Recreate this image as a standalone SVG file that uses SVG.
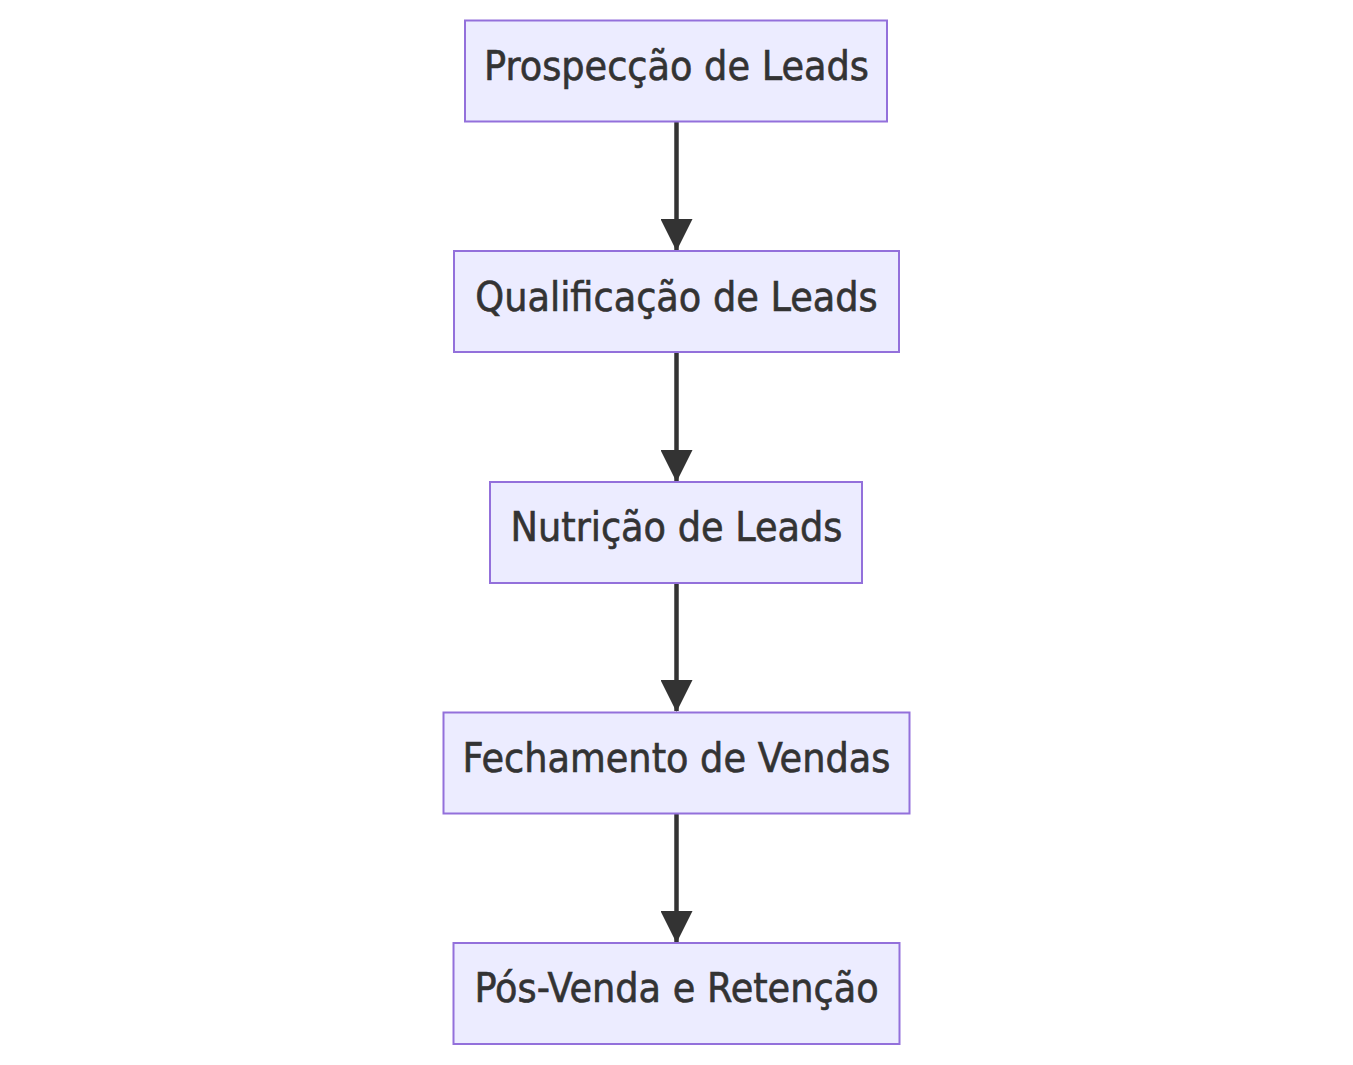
<svg xmlns="http://www.w3.org/2000/svg" width="1353" height="1065" viewBox="0 0 1353 1065">
<style>
.node rect{fill:#ECECFF;stroke:#9370DB;stroke-width:2}
.node text{font-family:"DejaVu Sans","Liberation Sans",sans-serif;font-stretch:condensed;font-size:40.8px;fill:#333333;text-anchor:middle;stroke:#333333;stroke-width:0.6}
.edge{stroke:#333333;stroke-width:4.5;fill:none}
</style>
<defs>
<marker id="arrow" markerUnits="userSpaceOnUse" markerWidth="32" markerHeight="32" refX="31" refY="16" viewBox="0 0 32 32" orient="auto">
<path d="M0,0 L32,16 L0,32 Z" fill="#333333"/>
</marker>
</defs>
<rect width="1353" height="1065" fill="#ffffff"/>
<g id="edges">
<line class="edge" x1="676.5" y1="122" x2="676.5" y2="250" marker-end="url(#arrow)"/>
<line class="edge" x1="676.5" y1="353" x2="676.5" y2="481" marker-end="url(#arrow)"/>
<line class="edge" x1="676.5" y1="584" x2="676.5" y2="711" marker-end="url(#arrow)"/>
<line class="edge" x1="676.5" y1="814" x2="676.5" y2="942" marker-end="url(#arrow)"/>
</g>
<g id="n1" class="node"><rect x="465" y="20.5" width="422" height="101"/><text x="676.5" y="80">Prospecção de Leads</text></g>
<g id="n2" class="node"><rect x="454" y="251" width="445" height="101"/><text x="676.5" y="311">Qualificação de Leads</text></g>
<g id="n3" class="node"><rect x="490" y="482" width="372" height="101"/><text x="676.5" y="541">Nutrição de Leads</text></g>
<g id="n4" class="node"><rect x="443.5" y="712.5" width="466" height="101"/><text x="676.5" y="772">Fechamento de Vendas</text></g>
<g id="n5" class="node"><rect x="453.5" y="943" width="446" height="101"/><text x="676.5" y="1002">Pós-Venda e Retenção</text></g>
</svg>
